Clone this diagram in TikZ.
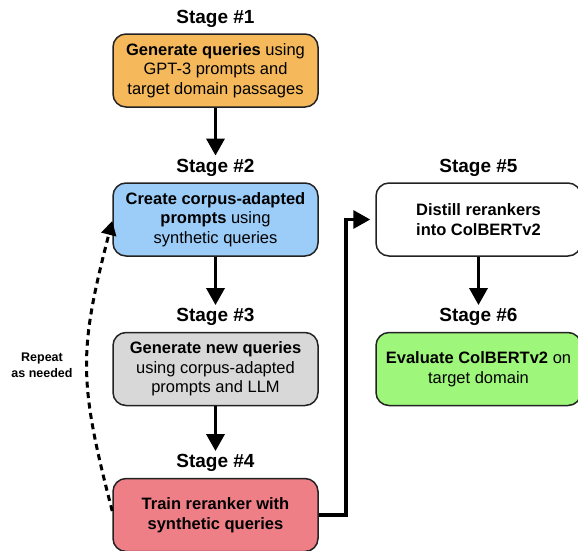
\documentclass[tikz,border=0pt]{standalone}
\usepackage{fontspec}
\setmainfont{Liberation Sans}
\usepackage{tikz}
\usetikzlibrary{arrows.meta}
\usetikzlibrary{positioning}

\definecolor{orangebox}{HTML}{F5B95C}
\definecolor{bluebox}{HTML}{9CCCF8}
\definecolor{graybox}{HTML}{D8D8D8}
\definecolor{redbox}{HTML}{EE7F87}
\definecolor{greenbox}{HTML}{9EF77B}
\definecolor{edge}{HTML}{222222}

\tikzset{
stagebox/.style={rectangle,rounded corners=13pt,draw=edge,line width=1.5pt,minimum width=205pt,minimum height=73pt,align=center,inner sep=0pt,font=\fontsize{16.5}{19.5}\selectfont},
stagelbl/.style={inner sep=0pt,font=\fontsize{19}{22}\selectfont\bfseries},
flow/.style={line width=3.5pt,-{Triangle[width=18pt,length=17pt]}},
loopback/.style={line width=3pt,dash pattern=on 6pt off 4.5pt,-{Triangle[width=15pt,length=14pt]}}
}

\begin{document}
\begin{tikzpicture}[x=1pt,y=-1pt]
\useasboundingbox (0,0) rectangle (578,550);
\node at (215.5,70.5)[stagebox,fill=orangebox](b1){\textbf{Generate queries} using\\GPT-3 prompts and\\target domain passages};
\node at (215.5,219.5)[stagebox,fill=bluebox](b2){\textbf{Create corpus-adapted}\\\textbf{prompts} using\\synthetic queries};
\node at (215.5,369)[stagebox,fill=graybox](b3){\textbf{Generate new queries}\\using corpus-adapted\\prompts and LLM};
\node at (215.5,515)[stagebox,fill=redbox](b4){\textbf{Train reranker with}\\\textbf{synthetic queries}};
\node at (478.5,219.5)[stagebox,fill=white](b5){\textbf{Distill rerankers}\\\textbf{into ColBERTv2}};
\node at (478.5,369)[stagebox,fill=greenbox](b6){\textbf{Evaluate ColBERTv2} on\\target domain};
\node[stagelbl,above=6pt of b1](s1){Stage \#1};
\node[stagelbl,above=6pt of b2](s2){Stage \#2};
\node[stagelbl,above=6pt of b3](s3){Stage \#3};
\node[stagelbl,above=6pt of b4](s4){Stage \#4};
\node[stagelbl,above=6pt of b5](s5){Stage \#5};
\node[stagelbl,above=6pt of b6](s6){Stage \#6};
\node at (42,365)[align=center,inner sep=0pt,font=\fontsize{12.5}{16}\selectfont\bfseries](rep){Repeat\\as needed};
% main flow
\draw[flow,shorten >=3pt] (b1.south) -- (s2.north);
\draw[flow,shorten >=3pt] (b2.south) -- (s3.north);
\draw[flow,shorten >=3pt] (b3.south) -- (s4.north);
\draw[flow,shorten >=3pt] (b5.south) -- (s6.north);
\draw[flow,shorten >=5pt] (b4.east) -- ++(27,0) |- (b5.west);
% loop back
\draw[loopback] ([yshift=4pt]b4.west) .. controls (78,380) and (79,350) .. ([yshift=-1.5pt]b2.west);
\end{tikzpicture}
\end{document}
